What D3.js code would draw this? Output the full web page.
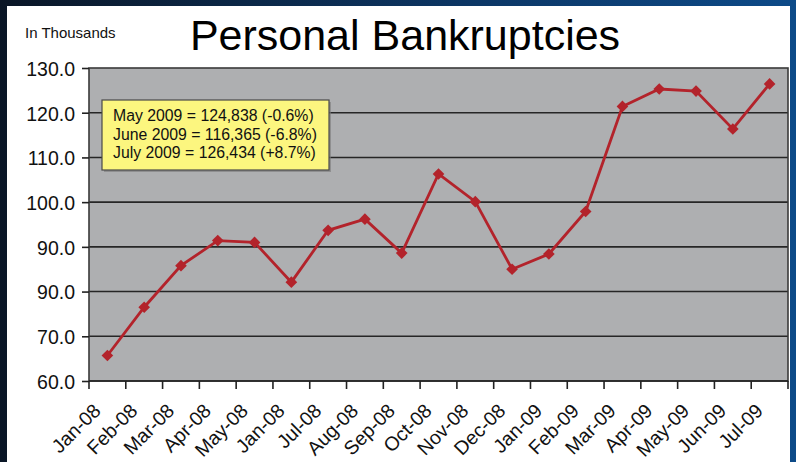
<!DOCTYPE html>
<html>
<head>
<meta charset="utf-8">
<script src="https://cdn.jsdelivr.net/npm/d3@7"></script>
<style>
  html, body { margin: 0; padding: 0; background: #0a1a2e; }
  svg { display: block; font-family: "Liberation Sans", Arial, Helvetica, sans-serif; }
</style>
</head>
<body>
<svg id="chart"></svg>
<script>
// data (in thousands)
var months = ["Jan-08","Feb-08","Mar-08","Apr-08","May-08","Jun-08","Jul-08","Aug-08","Sep-08","Oct-08",
              "Nov-08","Dec-08","Jan-09","Feb-09","Mar-09","Apr-09","May-09","Jun-09","Jul-09"];
// the labels as printed on the original (note the repeated "Jan-08")
var monthLabels = ["Jan-08","Feb-08","Mar-08","Apr-08","May-08","Jan-08","Jul-08","Aug-08","Sep-08","Oct-08",
                   "Nov-08","Dec-08","Jan-09","Feb-09","Mar-09","Apr-09","May-09","Jun-09","Jul-09"];
var filings = [65.7, 76.5, 85.8, 91.4, 91.0, 82.1, 93.7, 96.2, 88.6, 106.3,
               100.1, 85.0, 88.4, 97.9, 121.4, 125.3, 124.838, 116.365, 126.434];
var yTicks = [60, 70, 80, 90, 100, 110, 120, 130];
var yTickLabels = ["60.0", "70.0", "90.0", "90.0", "100.0", "110.0", "120.0", "130.0"];
var noteLines = ["May 2009 = 124,838 (-0.6%)", "June 2009 = 116,365 (-6.8%)", "July 2009 = 126,434 (+8.7%)"];

var width = 796, height = 462;
var svg = d3.select("#chart").attr("width", width).attr("height", height);

// background frame
var defs = svg.append("defs");
var grad = defs.append("linearGradient").attr("id", "frame").attr("x1", 0).attr("x2", 1).attr("y1", 0).attr("y2", 0);
grad.append("stop").attr("offset", "0%").attr("stop-color", "#0a1626");
grad.append("stop").attr("offset", "60%").attr("stop-color", "#0c3766");
grad.append("stop").attr("offset", "100%").attr("stop-color", "#0d4a88");
svg.append("rect").attr("width", width).attr("height", height).attr("fill", "url(#frame)");
svg.append("rect").attr("x", 7).attr("y", 6).attr("width", 783).attr("height", height - 6).attr("fill", "#fff");

var plot = { left: 89, top: 68, right: 788, bottom: 381 };

var x = d3.scaleBand().domain(months).range([plot.left, plot.right]).padding(0);
var y = d3.scaleLinear().domain([60, 130]).range([plot.bottom, plot.top]);

// plot background
svg.append("rect")
  .attr("x", plot.left).attr("y", plot.top)
  .attr("width", plot.right - plot.left).attr("height", plot.bottom - plot.top)
  .attr("fill", "#aeafb1");

// gridlines
svg.append("g").selectAll("line")
  .data(yTicks.slice(1, -1))
  .enter().append("line")
  .attr("x1", plot.left).attr("x2", plot.right)
  .attr("y1", d => y(d)).attr("y2", d => y(d))
  .attr("stroke", "#262626").attr("stroke-width", 1.6);

// border
svg.append("rect")
  .attr("x", plot.left).attr("y", plot.top)
  .attr("width", plot.right - plot.left).attr("height", plot.bottom - plot.top)
  .attr("fill", "none").attr("stroke", "#3a3a3a").attr("stroke-width", 1.6);

// y axis
var yAxis = svg.append("g")
  .attr("transform", "translate(" + plot.left + ",0)")
  .call(d3.axisLeft(y).tickValues(yTicks).tickFormat((d, i) => yTickLabels[i]).tickSize(7).tickPadding(7));
yAxis.select(".domain").remove();
yAxis.selectAll("line").attr("stroke", "#222").attr("stroke-width", 1.6);
yAxis.selectAll("text").attr("fill", "#111").style("font-size", "19.5px").attr("dy", "0.38em");

// x axis: ticks at category boundaries, labels at band centres
var bounds = months.map(m => x(m)).concat([plot.right]);
svg.append("line")
  .attr("x1", plot.left).attr("x2", plot.right)
  .attr("y1", plot.bottom).attr("y2", plot.bottom)
  .attr("stroke", "#222").attr("stroke-width", 1.6);
svg.append("g").selectAll("line")
  .data(bounds)
  .enter().append("line")
  .attr("x1", d => d).attr("x2", d => d)
  .attr("y1", plot.bottom).attr("y2", plot.bottom + 8)
  .attr("stroke", "#222").attr("stroke-width", 1.6);

svg.append("g").selectAll("text")
  .data(months)
  .enter().append("text")
  .attr("text-anchor", "end")
  .attr("transform", d => "translate(" + (x(d) + x.bandwidth() / 2 - 5.5) + "," + (plot.bottom + 31) + ") rotate(-45)")
  .style("font-size", "19.5px")
  .attr("fill", "#111")
  .text((d, i) => monthLabels[i]);

// line + markers
var line = d3.line()
  .x((d, i) => x(months[i]) + x.bandwidth() / 2)
  .y(d => y(d));

svg.append("path")
  .datum(filings)
  .attr("fill", "none")
  .attr("stroke", "#b3232b")
  .attr("stroke-width", 2.8)
  .attr("d", line);

var diamond = d3.symbol().type(d3.symbolSquare).size(68);
svg.append("g").selectAll("path")
  .data(filings)
  .enter().append("path")
  .attr("d", diamond)
  .attr("transform", (d, i) => "translate(" + (x(months[i]) + x.bandwidth() / 2) + "," + y(d) + ") rotate(45)")
  .attr("fill", "#b3232b");

// note box
var note = svg.append("g");
note.append("rect")
  .attr("x", 104).attr("y", 102).attr("width", 227).attr("height", 70)
  .attr("fill", "#7a7a7a").attr("opacity", 0.6);
note.append("rect")
  .attr("x", 102).attr("y", 100).attr("width", 227).attr("height", 70)
  .attr("fill", "#fcf67f").attr("stroke", "#4a4a4a").attr("stroke-width", 1.2);
note.selectAll("text")
  .data(noteLines)
  .enter().append("text")
  .attr("x", 113)
  .attr("y", (d, i) => 121 + i * 18.5)
  .style("font-size", "15.8px")
  .attr("fill", "#111")
  .text(d => d);

// titles
svg.append("text")
  .attr("x", 405).attr("y", 50)
  .attr("text-anchor", "middle")
  .style("font-size", "43px")
  .attr("fill", "#000")
  .text("Personal Bankruptcies");

svg.append("text")
  .attr("x", 25).attr("y", 38)
  .style("font-size", "15px")
  .attr("fill", "#111")
  .text("In Thousands");
</script>
</body>
</html>
